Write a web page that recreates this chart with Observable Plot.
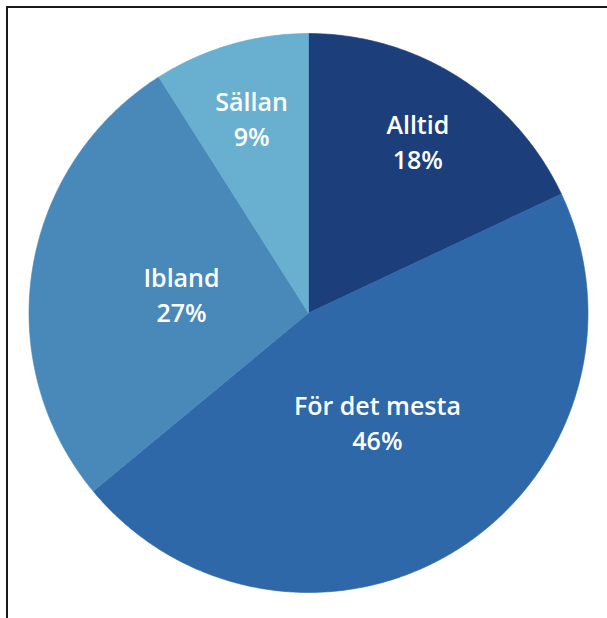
<!DOCTYPE html>
<html><head><meta charset="utf-8">
<script src="https://cdn.jsdelivr.net/npm/d3@7"></script>
<script src="https://cdn.jsdelivr.net/npm/@observablehq/plot@0.6"></script>
<style>
html,body{margin:0;padding:0;background:#fff;overflow:hidden}
#wrap{position:relative;width:607px;height:618px;overflow:hidden}
#frame{position:absolute;left:6px;top:6px;width:720px;height:720px;border:2px solid #1a1a1a;box-sizing:border-box}
#chart{position:absolute;left:0;top:0}
</style></head><body>
<div id="wrap"><div id="frame"></div><div id="chart"></div></div>
<script>
// Data
const categories = ["Alltid", "För det mesta", "Ibland", "Sällan"];
const shares = [18, 46, 27, 9];
const palette = ["#1c3f7c", "#2e68a8", "#4889ba", "#68afd0"];

const rows = categories.map((c, i) => ({category: c, value: shares[i]}));
const arcs = d3.pie().sort(null).value(d => d.value)(rows);

// slice polygons in unit-circle coordinates (angle clockwise from 12 o'clock)
const pts = [];
for (const a of arcs) {
  const c = a.data.category;
  const n = Math.max(2, Math.ceil((a.endAngle - a.startAngle) / (Math.PI / 360)));
  pts.push({category: c, x: 0, y: 0});
  for (let k = 0; k <= n; k++) {
    const t = a.startAngle + (a.endAngle - a.startAngle) * k / n;
    pts.push({category: c, x: Math.sin(t), y: Math.cos(t)});
  }
  pts.push({category: c, x: 0, y: 0});
}

// labels at mid-angle, small slices further out
const labels = arcs.map(a => {
  const m = (a.startAngle + a.endAngle) / 2;
  const share = a.data.value / d3.sum(shares);
  const r = share < 0.2 ? 0.73 : 0.46;
  return {category: a.data.category, x: r * Math.sin(m), y: r * Math.cos(m),
          text: `${a.data.category}\n${a.data.value}%`};
});

const chart = Plot.plot({
  width: 607,
  height: 618,
  marginLeft: 28.5,
  marginRight: 19.5,
  marginTop: 33,
  marginBottom: 26,
  x: {domain: [-1, 1], axis: null},
  y: {domain: [-1, 1], axis: null},
  color: {domain: categories, range: palette},
  style: {background: "transparent"},
  marks: [
    Plot.line(pts, {x: "x", y: "y", z: "category", fill: "category", stroke: "category", strokeWidth: 0.6, curve: "linear"}),
    Plot.text(labels, {x: "x", y: "y", text: "text", fill: "white", fontSize: 25, fontWeight: 600,
      fontFamily: "'Open Sans', Lato, sans-serif", lineHeight: 1.4, textAnchor: "middle"})
  ]
});
document.getElementById("chart").appendChild(chart);
</script>
</body></html>
